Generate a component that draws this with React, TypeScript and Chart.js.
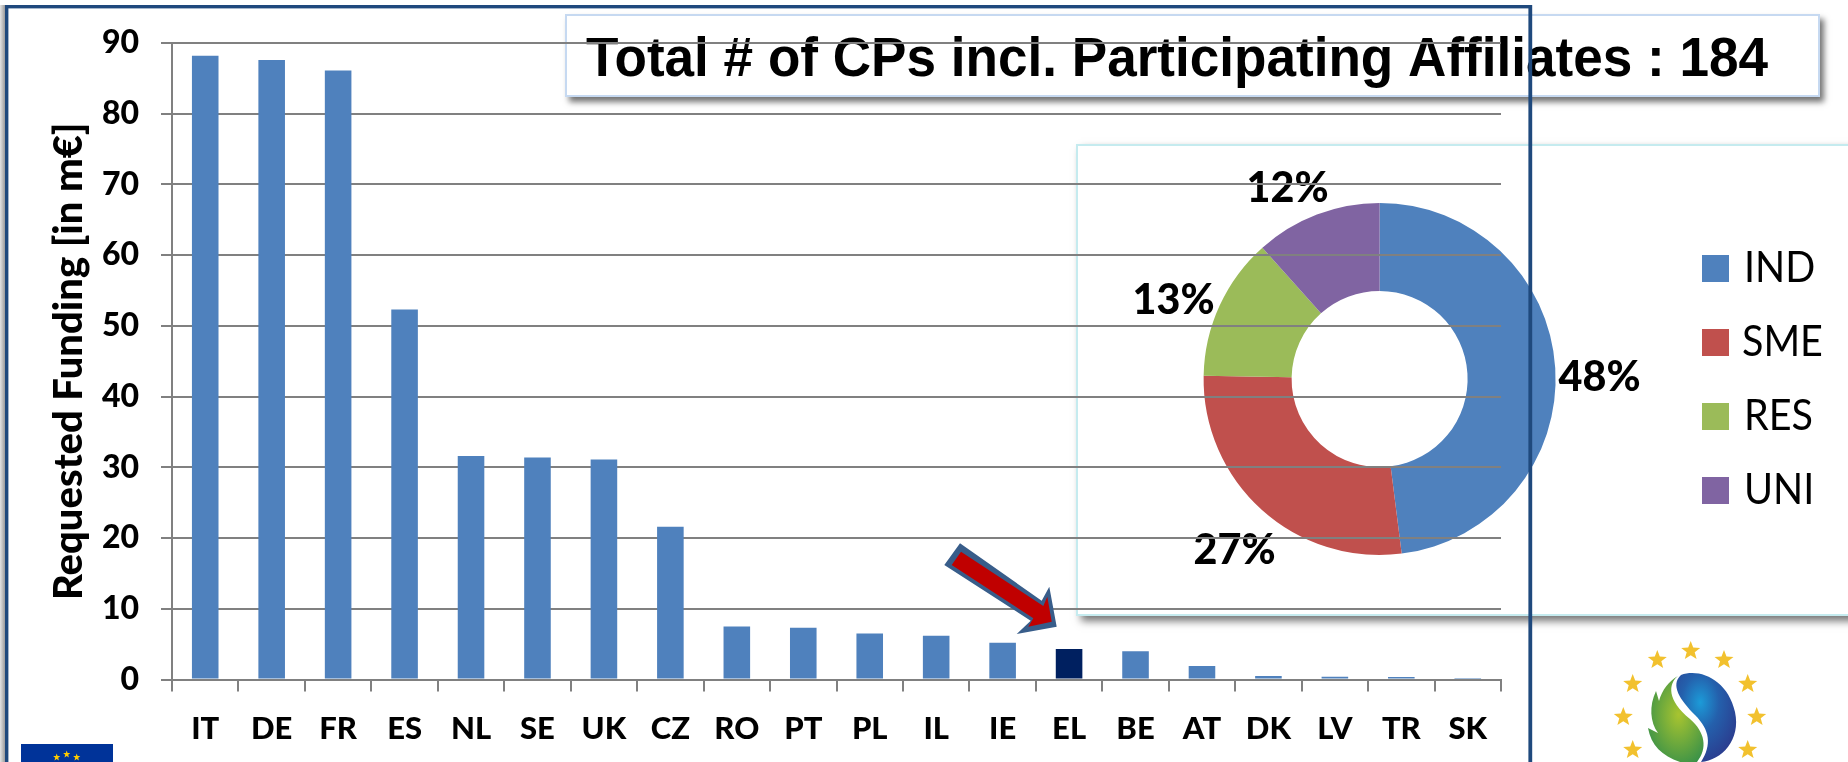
import React, { useEffect, useRef } from "react";
import { Chart, registerables } from "chart.js";

Chart.register(...registerables);

const countries = ["IT", "DE", "FR", "ES", "NL", "SE", "UK", "CZ", "RO", "PT", "PL", "IL", "IE", "EL", "BE", "AT", "DK", "LV", "TR", "SK"];
const funding = [88.2, 87.6, 86.1, 52.3, 31.6, 31.4, 31.1, 21.6, 7.5, 7.3, 6.5, 6.2, 5.2, 4.3, 4.0, 1.9, 0.5, 0.4, 0.35, 0.22];
const highlighted = "EL";
const participantTypes = ["IND", "SME", "RES", "UNI"];
const participantShares = [48, 27.3, 13.1, 11.6];
const participantColors = ["#4F81BD", "#C0504D", "#9BBB59", "#8064A2"];
const titleText = "Total # of CPs incl. Participating Affiliates : 184";
const yAxisTitle = "Requested Funding [in m€]";

const GRID = "#808080";
const FONT = "Lato, Carlito, sans-serif";
const FRAME = "#1F497D";
const HEAVY = 900;

// label centres relative to the doughnut centre, following the reference's best-fit placement
const pieLabelOffsets = [[220, -2], [-145, 171], [-206, -79], [-92, -191]];
const legendRows = [282, 356, 430, 504];

const donutOverlay = {
  id: "donutOverlay",
  afterDraw(chart: any) {
    const { ctx } = chart;
    const arcs = chart.getDatasetMeta(0).data;
    const cx = arcs[0].x;
    const cy = arcs[0].y;
    const total = participantShares.reduce((a, b) => a + b, 0);
    ctx.save();
    ctx.fillStyle = "#000";
    ctx.textAlign = "center";
    ctx.textBaseline = "middle";
    ctx.font = `${HEAVY} 42px ${FONT}`;
    participantShares.forEach((v, i) => {
      const [dx, dy] = pieLabelOffsets[i];
      ctx.fillText(`${Math.round((v / total) * 100)}%`, cx + dx, cy + dy, 82);
    });
    ctx.textAlign = "left";
    ctx.textBaseline = "alphabetic";
    participantTypes.forEach((name, i) => {
      const base = legendRows[i];
      ctx.fillStyle = participantColors[i];
      ctx.fillRect(1702, base - 27, 27, 27);
      ctx.fillStyle = "#000";
      ctx.font = `42px ${FONT}`;
      ctx.fillText(name, name === "SME" ? 1742 : 1744, base, ctx.measureText(name).width * 0.94);
    });
    ctx.font = "bold 56px 'Liberation Sans', Arial, sans-serif";
    ctx.fillText(titleText, 586, 76, 1182);
    ctx.restore();
  },
};

const starPath = (cx: number, cy: number, r: number) => {
  const pts: string[] = [];
  for (let i = 0; i < 10; i++) {
    const a = -Math.PI / 2 + (i * Math.PI) / 5;
    const rad = i % 2 === 0 ? r : r * 0.42;
    pts.push(`${(cx + rad * Math.cos(a)).toFixed(1)},${(cy + rad * Math.sin(a)).toFixed(1)}`);
  }
  return pts.join(" ");
};

const logoStars = [[1690.7, 651], [1657.3, 660], [1724, 660], [1632.7, 684], [1747.7, 684], [1623.3, 717], [1756.7, 717], [1632.7, 750], [1747.7, 750]];
const flagStars = [[56.7, 757.3], [66.7, 754.3], [76.7, 757.3]];

export default function App() {
  const donutRef = useRef<HTMLCanvasElement>(null);
  const barRef = useRef<HTMLCanvasElement>(null);

  useEffect(() => {
    const donut = new Chart(donutRef.current as HTMLCanvasElement, {
      type: "doughnut",
      data: {
        labels: participantTypes,
        datasets: [{ data: participantShares, backgroundColor: participantColors, borderWidth: 0 }],
      },
      options: {
        responsive: false,
        animation: false,
        cutout: "50%",
        layout: { padding: { left: 1203.6, right: 292.4, top: 203, bottom: 207 } },
        plugins: { legend: { display: false }, tooltip: { enabled: false } },
      },
      plugins: [donutOverlay],
    } as any);

    const bar = new Chart(barRef.current as HTMLCanvasElement, {
      type: "bar",
      data: {
        labels: countries,
        datasets: [
          {
            data: funding,
            backgroundColor: countries.map((c) => (c === highlighted ? "#002060" : "#4F81BD")),
            categoryPercentage: 1,
            barPercentage: 0.4,
          },
        ],
      },
      options: {
        responsive: false,
        animation: false,
        layout: { padding: { left: 45, right: 347, top: 43, bottom: 0 } },
        plugins: { legend: { display: false }, tooltip: { enabled: false } },
        scales: {
          x: {
            afterFit: (s: any) => {
              s.height = 82.5;
            },
            grid: { drawOnChartArea: false, drawTicks: true, tickLength: 12, color: GRID, lineWidth: 2, offset: true },
            border: { color: GRID, width: 2 },
            ticks: { color: "#000", font: { family: FONT, size: 31, weight: HEAVY }, padding: 19, autoSkip: false, maxRotation: 0 },
          },
          y: {
            min: 0,
            max: 90,
            afterFit: (s: any) => {
              s.width = 127;
            },
            grid: { color: GRID, lineWidth: 2, tickLength: 11 },
            border: { color: GRID, width: 2 },
            ticks: { stepSize: 10, color: "#000", font: { family: FONT, size: 32, weight: HEAVY }, padding: 22 },
            title: { display: true, text: yAxisTitle, color: "#000", font: { family: FONT, size: 40, weight: HEAVY }, padding: 0 },
          },
        },
      },
    } as any);

    return () => {
      donut.destroy();
      bar.destroy();
    };
  }, []);

  const layer: React.CSSProperties = { position: "absolute", left: 0, top: 0 };

  return (
    <div style={{ position: "fixed", left: 0, top: 0, width: 1848, height: 762, overflow: "hidden", background: "#fff" }}>
      <div
        style={{
          position: "absolute", left: 565, top: 14, width: 1255, height: 83, boxSizing: "border-box",
          border: "2px solid #C6D9F1", background: "#fff", boxShadow: "4px 5px 6px rgba(0,0,0,0.55)",
        }}
      />
      <div
        style={{
          position: "absolute", left: 1076, top: 144, width: 900, height: 472, boxSizing: "border-box",
          border: "2px solid #C5EBEF", background: "#fff", boxShadow: "5px 5px 8px rgba(0,0,0,0.55)",
        }}
      />
      <canvas ref={donutRef} width={1848} height={762} style={layer} />
      <canvas ref={barRef} width={1848} height={762} style={layer} />
      <svg width={1848} height={762} viewBox="0 0 1848 762" style={layer}>
        <defs>
          <linearGradient id="frameShade" x1="0" x2="1" y1="0" y2="0">
            <stop offset="0" stopColor="#E4E4E4" />
            <stop offset="1" stopColor="#9C9C9C" />
          </linearGradient>
          <radialGradient id="logoBlue" cx="0.4" cy="0.33" r="0.7">
            <stop offset="0" stopColor="#1C9BD8" />
            <stop offset="0.45" stopColor="#2460AC" />
            <stop offset="1" stopColor="#2B3C8E" />
          </radialGradient>
          <radialGradient id="logoGreen" cx="0.55" cy="0.45" r="0.7">
            <stop offset="0" stopColor="#A8C430" />
            <stop offset="1" stopColor="#2E8C4A" />
          </radialGradient>
        </defs>
        <rect x={0} y={5} width={5} height={757} fill="url(#frameShade)" />
        <rect x={5} y={5} width={3.4} height={757} fill={FRAME} />
        <rect x={5} y={5} width={1527} height={3.4} fill={FRAME} />
        <rect x={1528.4} y={5} width={3.8} height={757} fill={FRAME} />
        <polygon points="960,543.3 1041.7,600.7 1049.3,586.7 1056.7,626.7 1016.7,634 1030.7,620.7 944.3,565" fill="#385D8A" />
        <polygon points="961,551.7 1043.3,606 1047.3,596.7 1051.7,621.7 1028.3,626.7 1033.3,618.3 951.7,565" fill="#C00000" />
        <rect x={21} y={744} width={92} height={18} fill="#003399" />
        {flagStars.map(([x, y], i) => (
          <polygon key={i} points={starPath(x, y, 3.8)} fill="#FFCC00" />
        ))}
        {logoStars.map(([x, y], i) => (
          <polygon key={i} points={starPath(x, y, 10)} fill="#F2C12E" />
        ))}
        <path d="M1681,675 C1700,668 1728,680 1735,712 C1741,740 1722,760 1701,762 C1712,745 1710,730 1695,715 C1680,700 1670,685 1681,675 Z" fill="url(#logoBlue)" />
        <path d="M1678,676 C1668,684 1667,700 1690,719 C1705,732 1708,748 1697,762 L1680,762 C1662,756 1651,745 1648,728 L1658,733 C1650,722 1649,706 1656,691 L1659,701 C1662,690 1669,681 1678,676 Z" fill="url(#logoGreen)" />
      </svg>
    </div>
  );
}
